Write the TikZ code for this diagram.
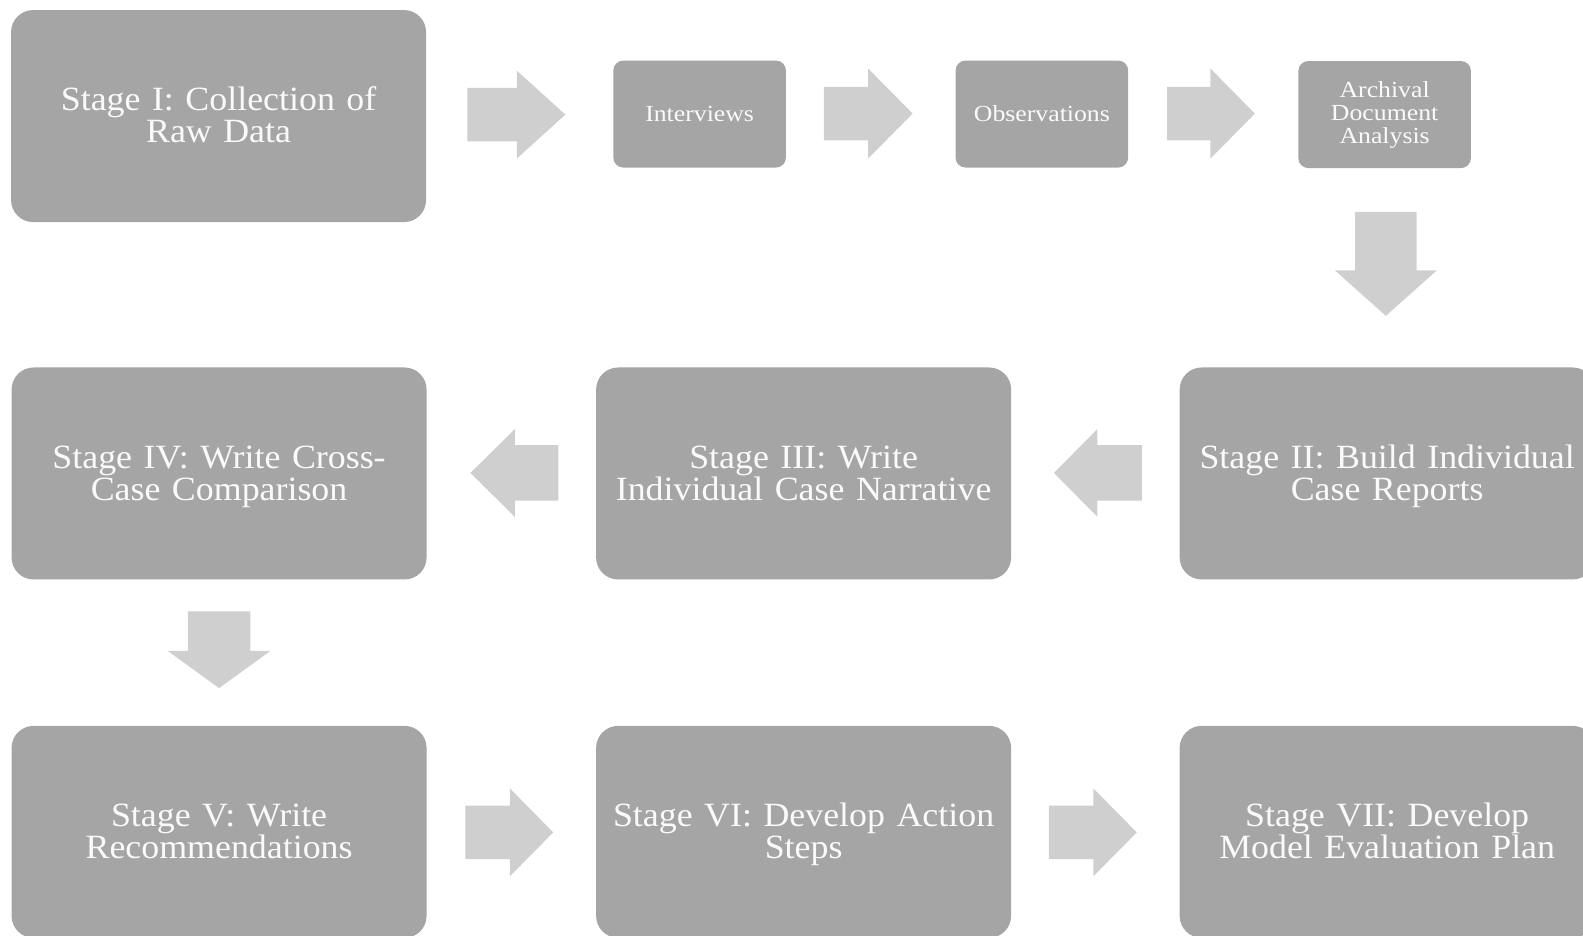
\documentclass[tikz,border=0pt]{standalone}
\usepackage{fontspec}
\setmainfont{Liberation Serif}
\newfontfamily\bigserif[FakeStretch=1.055]{Liberation Serif}
\newfontfamily\smallserif[FakeStretch=1.12]{Liberation Serif}
\usetikzlibrary{calc}
\definecolor{boxgray}{HTML}{A5A5A5}
\definecolor{arrgray}{HTML}{CFCFCF}
\definecolor{txtwhite}{HTML}{FAFAFA}
\newcommand\bigfnt{\bigserif\fontsize{34}{32}\selectfont\spaceskip 11.5pt plus 2pt\relax}
\newcommand\smallfnt{\smallserif\fontsize{23}{23}\selectfont}
\newcommand\topstrut{\rule{0pt}{31pt}}
\newcommand\botstrut{\rule[-9.6pt]{0pt}{0pt}}
\newcommand\blockarrow[6]{% center, angle, length, head length, head width, shaft width
  \fill[arrfill, shift={(#1)}, rotate=#2]
    ({-(#3)/2},{-(#6)/2}) -- ({(#3)/2-(#4)},{-(#6)/2}) -- ({(#3)/2-(#4)},{-(#5)/2})
    -- ({(#3)/2},0) -- ({(#3)/2-(#4)},{(#5)/2}) -- ({(#3)/2-(#4)},{(#6)/2})
    -- ({-(#3)/2},{(#6)/2}) -- cycle;}
\tikzset{
  bigbox/.style={fill=boxgray, rounded corners=22pt, minimum width=415pt, minimum height=212pt,
    inner sep=0pt, align=center, text=txtwhite, font=\bigfnt},
  smallbox/.style={fill=boxgray, rounded corners=10pt, minimum width=172.6pt, minimum height=107pt,
    inner sep=0pt, align=center, text=txtwhite, font=\smallfnt},
  arrfill/.style={fill=arrgray}
}
\begin{document}
\begin{tikzpicture}[x=1.00957pt, y=1.00957pt]
\useasboundingbox (0,0) rectangle (1568,927);
% row 1
\node[bigbox] (s1) at (216.5,812) {\topstrut Stage I: Collection of\\Raw Data\botstrut};
\node[smallbox] (int) at (693,814) {Interviews};
\node[smallbox] (obs) at (1032,814) {Observations};
\node[smallbox] (arc) at (1371.5,813.5) {Archival\\Document\\Analysis};
% row 2
\node[bigbox] (s4) at (217,458) {\topstrut Stage IV: Write Cross-\\Case Comparison\botstrut};
\node[bigbox] (s3) at (796,458) {\topstrut Stage III: Write\\Individual Case Narrative\botstrut};
\node[bigbox] (s2) at (1374,458) {\topstrut Stage II: Build Individual\\Case Reports\botstrut};
% row 3
\node[bigbox] (s5) at (217,103) {\topstrut Stage V: Write\\Recommendations\botstrut};
\node[bigbox] (s6) at (796,103) {\topstrut Stage VI: Develop Action\\Steps\botstrut};
\node[bigbox] (s7) at (1374,103) {\topstrut Stage VII: Develop\\Model Evaluation Plan\botstrut};
% arrows
\coordinate (a1) at (511.5,813.5);
\coordinate (a2) at (860,814.5);
\coordinate (a3) at (1199.5,814.5);
\coordinate (a4) at ($(arc.south)!0.48!(s2.north)$);
\coordinate (a5) at (1087.5,458.5);
\coordinate (a6) at (509.5,458.5);
\coordinate (a7) at ($(s4.south)!0.48!(s5.north)$);
\coordinate (a8) at (504.5,102.5);
\coordinate (a9) at (1082.5,102.5);
\blockarrow{a1}{0}{97}{48}{87}{53}
\blockarrow{a2}{0}{88}{44}{89}{53}
\blockarrow{a3}{0}{87}{44}{89}{53}
\blockarrow{a4}{-90}{103}{45}{101}{61}
\blockarrow{a5}{180}{87}{43}{87}{55}
\blockarrow{a6}{180}{87}{44}{87}{55}
\blockarrow{a7}{-90}{76}{37}{102}{62}
\blockarrow{a8}{0}{87}{43}{87}{53}
\blockarrow{a9}{0}{87}{43}{87}{53}
\end{tikzpicture}
\end{document}
